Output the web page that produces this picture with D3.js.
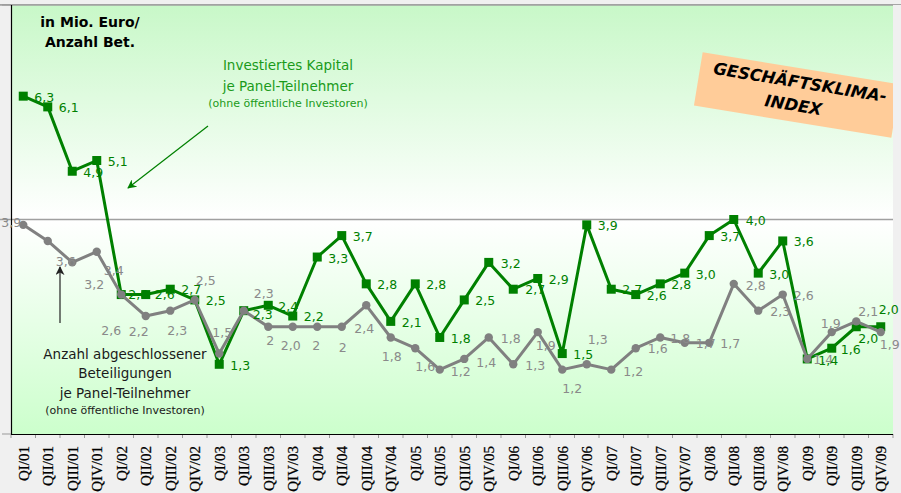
<!DOCTYPE html>
<html>
<head>
<meta charset="utf-8">
<script src="https://cdn.jsdelivr.net/npm/d3@7"></script>
<style>
  html, body { margin: 0; padding: 0; background: #f0f0f0; }
  svg { display: block; }
</style>
</head>
<body>
<svg id="chart" width="901" height="493"></svg>
<script>
const categories = ["QI/01","QII/01","QIII/01","QIV/01","QI/02","QII/02","QIII/02","QIV/02",
  "QI/03","QII/03","QIII/03","QIV/03","QI/04","QII/04","QIII/04","QIV/04",
  "QI/05","QII/05","QIII/05","QIV/05","QI/06","QII/06","QIII/06","QIV/06",
  "QI/07","QII/07","QIII/07","QIV/07","QI/08","QII/08","QIII/08","QIV/08",
  "QI/09","QII/09","QIII/09","QIV/09"];

// Investiertes Kapital je Panel-Teilnehmer (Mio. Euro)
const kapital = [6.3,6.1,4.9,5.1,2.6,2.6,2.7,2.5,1.3,2.3,2.4,2.2,3.3,3.7,2.8,2.1,
  2.8,1.8,2.5,3.2,2.7,2.9,1.5,3.9,2.7,2.6,2.8,3.0,3.7,4.0,3.0,3.6,1.4,1.6,2.0,2.0];

// Anzahl abgeschlossener Beteiligungen je Panel-Teilnehmer
const anzahl = [3.9,3.6,3.2,3.4,2.6,2.2,2.3,2.5,1.5,2.3,2.0,2.0,2.0,2.0,2.4,1.8,
  1.6,1.2,1.4,1.8,1.3,1.9,1.2,1.3,1.2,1.6,1.8,1.7,1.7,2.8,2.3,2.6,1.4,1.9,2.1,1.9];
const anzahlLabels = ["3,9","3,6","3,2","3,4","2,6","2,2","2,3","2,5","1,5","2,3","2","2,0",
  "2","2","2,4","1,8","1,6","1,2","1,4","1,8","1,3","1,9","1,2","1,3","1,2","1,6","1,8",
  "1,7","1,7","2,8","2,3","2,6","1,4","1,9","2,1","1,9"];

const yTicks = [0, 4, 8];

// label placement (pixel offsets relative to the marker)
const kapitalLabelOffsets = [[21,1],[21,1],[21,1],[21,1],[17,0],[19,0],[21,0],[21,1],
  [21,1],[19,4],[20,1],[21,1],[21,2],[21,1],[21,1],[21,1],[21,1],[21,1],[21,1],[22,1],
  [22,0],[21,1],[21,1],[21,1],[21,0],[21,1],[21,1],[21,1],[21,1],[22,1],[21,1],[21,1],
  [21,2],[19,1],[12,12],[8,-17]];
const anzahlLabelOffsets = [[-12,-2],[18,21],[22,22],[17,19],[-10,36],[-7,16],[7,20],[11,-19],
  [3,-21],[20,-17],[2,14],[-2,19],[-1,19],[1,21],[-2,23],[1,19],[10,18],[21,2],[22,4],[22,1],
  [22,1],[8,14],[10,19],[11,-25],[22,2],[22,0],[20,1],[21,1],[21,1],[22,2],[22,1],[21,1],
  [16,1],[-1,-8],[12,-10],[9,13]];

const svg = d3.select("#chart");
const L = 11, R = 893, T = 5, B = 434;

const x = d3.scaleBand().domain(categories).range([L, R]).padding(0);
const cx = c => x(c) + x.bandwidth() / 2;
const y = d3.scaleLinear().domain([0, 8]).range([B, T]);

const defs = svg.append("defs");
const grad = defs.append("linearGradient").attr("id", "bg").attr("x1", 0).attr("y1", 0).attr("x2", 0).attr("y2", 1);
grad.append("stop").attr("offset", "0%").attr("stop-color", "#c8f8c8");
grad.append("stop").attr("offset", "50%").attr("stop-color", "#ffffff");
grad.append("stop").attr("offset", "100%").attr("stop-color", "#ccffcc");
defs.append("clipPath").attr("id", "plotclip").append("rect")
  .attr("x", L).attr("y", T).attr("width", R - L).attr("height", B - T);
const mk = (id, color) => defs.append("marker").attr("id", id)
  .attr("viewBox", "0 0 10 10").attr("refX", 9).attr("refY", 5)
  .attr("markerWidth", 9).attr("markerHeight", 9).attr("markerUnits", "userSpaceOnUse")
  .attr("orient", "auto")
  .append("path").attr("d", "M0,0 L10,5 L0,10 L3,5 Z").attr("fill", color);
mk("arrG", "#008000");
mk("arrK", "#222222");

// outer top border
svg.append("line").attr("x1", 0).attr("x2", 901).attr("y1", 4.5).attr("y2", 4.5)
  .attr("stroke", "#a6a6a6").attr("stroke-width", 1);

// plot background
svg.append("rect").attr("x", L).attr("y", T).attr("width", R - L).attr("height", B - T)
  .attr("fill", "url(#bg)");

// gridlines
svg.append("g").selectAll("line").data(yTicks.filter(v => v > 0)).join("line")
  .attr("x1", 0).attr("x2", R).attr("y1", d => y(d)).attr("y2", d => y(d))
  .attr("stroke", "#a0a0a0").attr("stroke-width", 1.5);

// y axis
svg.append("line").attr("x1", L + 0.5).attr("x2", L + 0.5).attr("y1", T).attr("y2", B)
  .attr("stroke", "#000").attr("stroke-width", 1.2);
svg.append("g").selectAll("line").data(yTicks).join("line")
  .attr("x1", 2).attr("x2", L).attr("y1", d => y(d)).attr("y2", d => y(d))
  .attr("stroke", "#999").attr("stroke-width", 1);

// x axis
const xAxis = svg.append("g").attr("transform", `translate(0,${B})`)
  .call(d3.axisBottom(x).tickSize(0).tickPadding(0));
xAxis.select(".domain").remove();
xAxis.selectAll("text")
  .attr("transform", "rotate(-90)")
  .attr("x", -12).attr("y", 0).attr("dy", "0.36em")
  .attr("text-anchor", "end")
  .attr("font-family", "'Liberation Serif', 'DejaVu Serif', serif")
  .attr("font-size", 15).attr("fill", "#000")
  .attr("stroke", "#000").attr("stroke-width", 0.25);
svg.append("g").selectAll("line").data(categories.concat(["__end"])).join("line")
  .attr("x1", d => d === "__end" ? R : x(d)).attr("x2", d => d === "__end" ? R : x(d))
  .attr("y1", B).attr("y2", B + 4)
  .attr("stroke", "#999").attr("stroke-width", 1);
svg.append("line").attr("x1", L).attr("x2", R).attr("y1", B + 0.5).attr("y2", B + 0.5)
  .attr("stroke", "#000").attr("stroke-width", 1.2);

// Geschäftsklima box
const boxG = svg.append("g").attr("clip-path", "url(#plotclip)")
  .append("g").attr("transform", "translate(797,95) rotate(9.3)");
boxG.append("rect").attr("x", -100).attr("y", -27).attr("width", 200).attr("height", 54)
  .attr("fill", "#ffcc99");
boxG.selectAll("text").data(["GESCHÄFTSKLIMA-", "INDEX"]).join("text")
  .attr("x", (d, i) => i === 0 ? 1 : -2).attr("y", (d, i) => i === 0 ? -13 : 10.5)
  .attr("dy", "0.35em").attr("text-anchor", "middle")
  .attr("font-family", "'DejaVu Sans', sans-serif").attr("font-weight", "bold")
  .attr("font-style", "italic").attr("font-size", 16.5).attr("fill", "#000")
  .text(d => d);

// title
svg.append("g").selectAll("text").data(["in Mio. Euro/", "Anzahl Bet."]).join("text")
  .attr("x", 90).attr("y", (d, i) => 22 + i * 20).attr("dy", "0.35em")
  .attr("text-anchor", "middle").attr("font-family", "'DejaVu Sans', sans-serif")
  .attr("font-weight", "bold").attr("font-size", 14).attr("fill", "#000").text(d => d);

// annotations
const ann1 = [["Investiertes Kapital", 13.5, 65], ["je Panel-Teilnehmer", 13.5, 86], ["(ohne öffentliche Investoren)", 11, 103]];
svg.append("g").selectAll("text").data(ann1).join("text")
  .attr("x", 288).attr("y", d => d[2]).attr("dy", "0.35em").attr("text-anchor", "middle")
  .attr("font-family", "'DejaVu Sans', sans-serif").attr("font-size", d => d[1])
  .attr("fill", "#1a9a1a").text(d => d[0]);
const ann2 = [["Anzahl abgeschlossener", 13.5, 354], ["Beteiligungen", 13.5, 373], ["je Panel-Teilnehmer", 13.5, 393], ["(ohne öffentliche Investoren)", 11, 410]];
svg.append("g").selectAll("text").data(ann2).join("text")
  .attr("x", 125).attr("y", d => d[2]).attr("dy", "0.35em").attr("text-anchor", "middle")
  .attr("font-family", "'DejaVu Sans', sans-serif").attr("font-size", d => d[1])
  .attr("fill", "#1a1a1a").text(d => d[0]);

svg.append("line").attr("x1", 208).attr("y1", 126).attr("x2", 128).attr("y2", 188)
  .attr("stroke", "#008000").attr("stroke-width", 1.2).attr("marker-end", "url(#arrG)");
svg.append("line").attr("x1", 60).attr("y1", 323).attr("x2", 60).attr("y2", 267)
  .attr("stroke", "#222").attr("stroke-width", 1.2).attr("marker-end", "url(#arrK)");

// series: Kapital (green)
const line = d3.line().x((d, i) => cx(categories[i])).y(d => y(d));
svg.append("path").datum(kapital).attr("d", line).attr("fill", "none")
  .attr("stroke", "#008000").attr("stroke-width", 3).attr("stroke-linejoin", "round");
svg.append("g").selectAll("rect").data(kapital).join("rect")
  .attr("x", (d, i) => cx(categories[i]) - 4.5).attr("y", d => y(d) - 4.5)
  .attr("width", 9).attr("height", 9).attr("fill", "#008000");

// series: Anzahl (gray)
svg.append("path").datum(anzahl).attr("d", line).attr("fill", "none")
  .attr("stroke", "#808080").attr("stroke-width", 3).attr("stroke-linejoin", "round");
svg.append("g").selectAll("circle").data(anzahl).join("circle")
  .attr("cx", (d, i) => cx(categories[i])).attr("cy", d => y(d)).attr("r", 4.2)
  .attr("fill", "#808080");

// labels
svg.append("g").selectAll("text").data(anzahl).join("text")
  .attr("x", (d, i) => cx(categories[i]) + anzahlLabelOffsets[i][0])
  .attr("y", (d, i) => y(d) + anzahlLabelOffsets[i][1])
  .attr("dy", "0.35em").attr("text-anchor", "middle")
  .attr("font-family", "'DejaVu Sans', sans-serif").attr("font-size", 12.5)
  .attr("fill", "#8a8a8a").text((d, i) => anzahlLabels[i]);
const fmt = v => d3.format(".1f")(v).replace(".", ",");
svg.append("g").selectAll("text").data(kapital).join("text")
  .attr("x", (d, i) => cx(categories[i]) + kapitalLabelOffsets[i][0])
  .attr("y", (d, i) => y(d) + kapitalLabelOffsets[i][1])
  .attr("dy", "0.35em").attr("text-anchor", "middle")
  .attr("font-family", "'DejaVu Sans', sans-serif").attr("font-size", 12.5)
  .attr("fill", "#008000").text(d => fmt(d));
</script>
</body>
</html>
